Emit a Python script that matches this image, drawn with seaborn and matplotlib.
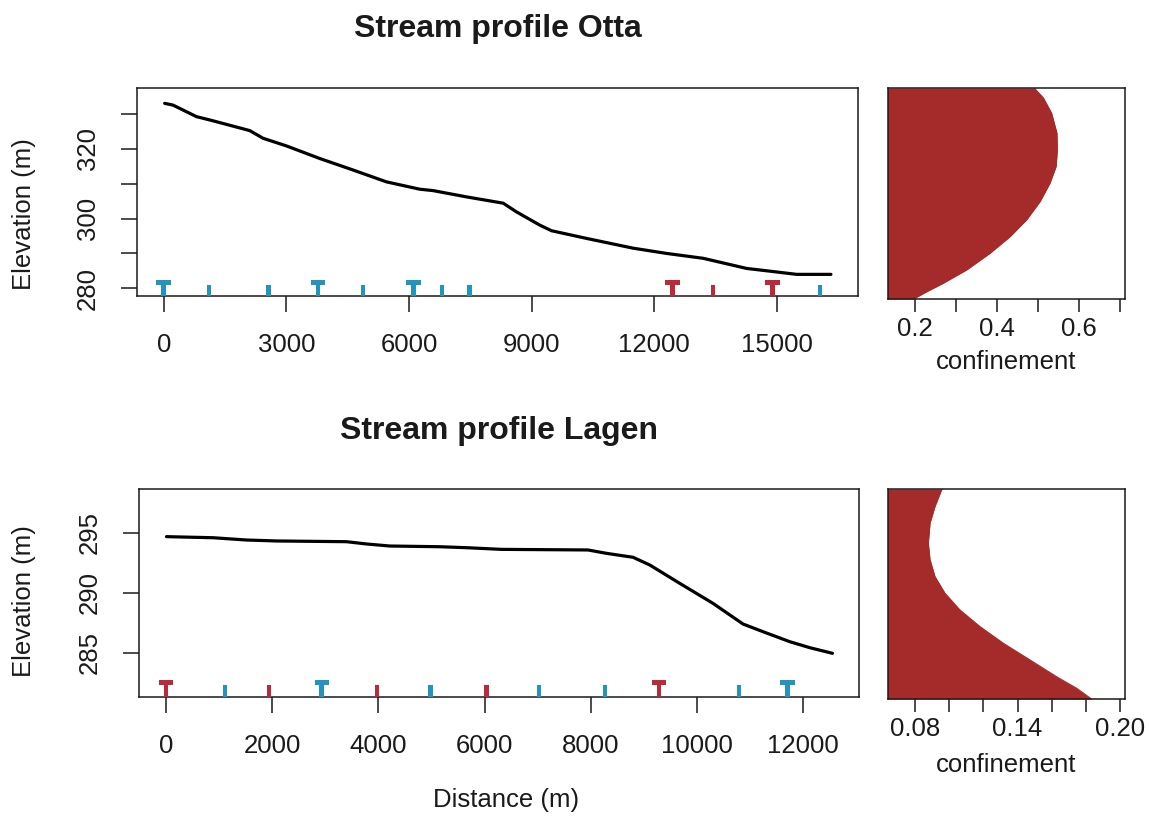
import numpy as np
import pandas as pd
import matplotlib
matplotlib.use("Agg")
import matplotlib.pyplot as plt
from matplotlib.path import Path
import seaborn as sns

# ---------------- data ----------------
otta_dist = [24, 228, 800, 1207, 2104, 2430, 3003, 3817, 4632, 5450, 6264, 6590, 7407,
             8303, 8630, 9201, 9487, 10343, 11484, 12300, 13197, 14258, 14910, 15482, 16321]
otta_elev = [333.0, 332.5, 329.2, 328.0, 325.2, 323.0, 320.8, 317.2, 313.9, 310.5, 308.4,
             308.0, 306.2, 304.4, 301.9, 298.1, 296.5, 294.3, 291.5, 290.0, 288.6, 285.7,
             284.8, 284.0, 284.0]

lagen_dist = [8, 885, 1514, 2079, 3397, 3774, 4213, 5154, 5657, 6316, 7947, 8294, 8795,
              9109, 9674, 10301, 10866, 11243, 11745, 12122, 12550]
lagen_elev = [294.67, 294.58, 294.39, 294.31, 294.25, 294.06, 293.89, 293.83, 293.75,
              293.61, 293.56, 293.28, 292.95, 292.31, 290.78, 289.11, 287.39, 286.75,
              285.92, 285.42, 284.95]

# site markers along the stream: position, shape (T / I), group (blue / red)
otta_site_dist = [0, 1108, 2562, 3776, 4877, 6110, 6810, 7480, 12448, 13442, 14895, 16052]
otta_site_shape = ["T", "I", "I", "T", "I", "T", "I", "I", "T", "I", "T", "I"]
otta_site_group = ["blue"] * 8 + ["red"] * 3 + ["blue"]
otta_site_level = 280

lagen_site_dist = [0, 1105, 1940, 2932, 3973, 4979, 6034, 7019, 8262, 9285, 10791, 11702]
lagen_site_shape = ["T", "I", "I", "T", "I", "I", "I", "I", "I", "T", "I", "T"]
lagen_site_group = ["red", "blue", "red", "blue", "red", "blue", "red", "blue", "blue",
                    "red", "blue", "blue"]
lagen_site_level = 282

# confinement profiles (relative position 0 = bottom, 1 = top)
otta_conf_pos = [0.0, 0.035, 0.075, 0.138, 0.217, 0.296, 0.375, 0.462, 0.549, 0.628,
                 0.707, 0.786, 0.881, 0.953, 0.995, 1.0]
otta_conf = [0.196, 0.229, 0.269, 0.326, 0.383, 0.432, 0.472, 0.505, 0.529, 0.544,
             0.547, 0.546, 0.533, 0.513, 0.493, 0.490]

lagen_conf_pos = [0.0, 0.051, 0.106, 0.186, 0.266, 0.345, 0.424, 0.504, 0.583, 0.663,
                  0.742, 0.838, 0.917, 0.997, 1.0]
lagen_conf = [0.1833, 0.1746, 0.1629, 0.1473, 0.1316, 0.118, 0.1063, 0.0975, 0.0917,
              0.0888, 0.0878, 0.0888, 0.0917, 0.0956, 0.0960]

# ---------------- style ----------------
sns.set_style("ticks")
plt.rcParams["font.family"] = ["Liberation Sans", "DejaVu Sans"]
plt.rcParams["axes.linewidth"] = 1.1
plt.rcParams["axes.edgecolor"] = "#1a1a1a"

TXT = "#1a1a1a"
BLUE = "#2394BE"
RED = "#BA2A3A"
FILL = "#A52A2A"
FS = 18.5

T_marker = Path([(-0.85, 1), (0.85, 1), (0.85, 0.42), (0.28, 0.42), (0.28, -1),
                 (-0.28, -1), (-0.28, 0.42), (-0.85, 0.42), (-0.85, 1)], closed=True)
I_marker = Path([(-0.26, 0.4), (0.26, 0.4), (0.26, -1), (-0.26, -1), (-0.26, 0.4)],
                closed=True)

W, H = 1149, 816
fig = plt.figure(figsize=(W / 100, H / 100), dpi=100)


def px_axes(l, t, r, b):
    return fig.add_axes([l / W, 1 - b / H, (r - l) / W, (b - t) / H])


def profile(ax, dist, elev, sdist, sshape, sgroup, slevel):
    sns.lineplot(x=dist, y=elev, ax=ax, color="black", lw=2.3, sort=False,
                 estimator=None, legend=False)
    sites = pd.DataFrame({"dist": sdist, "level": [slevel] * len(sdist),
                          "shape": sshape, "group": sgroup})
    sns.scatterplot(data=sites, x="dist", y="level", hue="group", style="shape",
                    palette={"blue": BLUE, "red": RED},
                    markers={"T": T_marker, "I": I_marker}, s=150, linewidth=0,
                    ax=ax, legend=False, zorder=3)
    for s in ax.spines.values():
        s.set_visible(True)
    ax.tick_params(direction="out", length=11.5, width=1.1, pad=15, labelsize=FS,
                   colors=TXT, labelcolor=TXT)
    ax.set_xlabel("")
    ax.set_ylabel("Elevation (m)", fontsize=FS, color=TXT)


def confinement(ax, pos, conf):
    ax.fill_betweenx(pos, 0, conf, color=FILL, lw=0)
    sns.lineplot(x=conf, y=pos, ax=ax, color=FILL, lw=0.8, sort=False,
                 estimator=None, legend=False)
    for s in ax.spines.values():
        s.set_visible(True)
    ax.set_ylim(0, 1)
    ax.set_yticks([])
    ax.tick_params(axis="x", direction="out", length=9.5, width=1.1, pad=3.5,
                   labelsize=FS, colors=TXT, labelcolor=TXT)
    ax.set_xlabel("confinement", fontsize=FS, color=TXT)
    ax.set_ylabel("")


# ---- Otta ----
ax1 = px_axes(137, 88, 858, 296)
profile(ax1, otta_dist, otta_elev, otta_site_dist, otta_site_shape, otta_site_group,
        otta_site_level)
ax1.set_xlim(-653, 16983)
ax1.set_ylim(277.8, 337.4)
ax1.set_xticks(range(0, 15001, 3000))
ax1.set_xticklabels([str(v) for v in range(0, 15001, 3000)])
ax1.set_yticks(range(280, 331, 10))
ax1.set_yticklabels(["280", "", "300", "", "320", ""], rotation=90, va="center")
ax1.yaxis.set_label_coords(-0.157, 0.392)
ax1.yaxis.label.set_va("center")
ax1.set_title("Stream profile Otta", fontsize=23, fontweight="bold", color=TXT,
              y=(296 - 29) / 208, va="center", pad=0)

ax2 = px_axes(888, 88, 1125, 299)
confinement(ax2, otta_conf_pos, otta_conf)
ax2.set_xlim(0.134, 0.712)
ax2.set_xticks([0.2, 0.3, 0.4, 0.5, 0.6, 0.7])
ax2.set_xticklabels(["0.2", "", "0.4", "", "0.6", ""])
ax2.xaxis.set_label_coords(0.5, -63 / 211)
ax2.xaxis.label.set_va("center")

# ---- Lagen ----
ax3 = px_axes(139, 489, 859, 697)
profile(ax3, lagen_dist, lagen_elev, lagen_site_dist, lagen_site_shape, lagen_site_group,
        lagen_site_level)
ax3.set_xlim(-510, 13050)
ax3.set_ylim(281.31, 298.64)
ax3.set_xticks(range(0, 12001, 2000))
ax3.set_xticklabels([str(v) for v in range(0, 12001, 2000)])
ax3.set_yticks([285, 290, 295])
ax3.set_yticklabels(["285", "290", "295"], rotation=90, va="center")
ax3.yaxis.set_label_coords(-0.160, 0.4615)
ax3.yaxis.label.set_va("center")
ax3.set_xlabel("Distance (m)", fontsize=FS, color=TXT)
ax3.xaxis.set_label_coords(0.51, -103 / 208)
ax3.xaxis.label.set_va("center")
ax3.set_title("Stream profile Lagen", fontsize=23, fontweight="bold", color=TXT,
              y=(697 - 431) / 208, va="center", pad=0)

ax4 = px_axes(888, 489, 1125, 699)
confinement(ax4, lagen_conf_pos, lagen_conf)
ax4.set_xlim(0.0642, 0.2029)
ax4.set_xticks([0.08, 0.10, 0.12, 0.14, 0.16, 0.18, 0.20])
ax4.set_xticklabels(["0.08", "", "", "0.14", "", "", "0.20"])
ax4.xaxis.set_label_coords(0.5, -66 / 210)
ax4.xaxis.label.set_va("center")

fig.savefig("out.png", dpi=100)
